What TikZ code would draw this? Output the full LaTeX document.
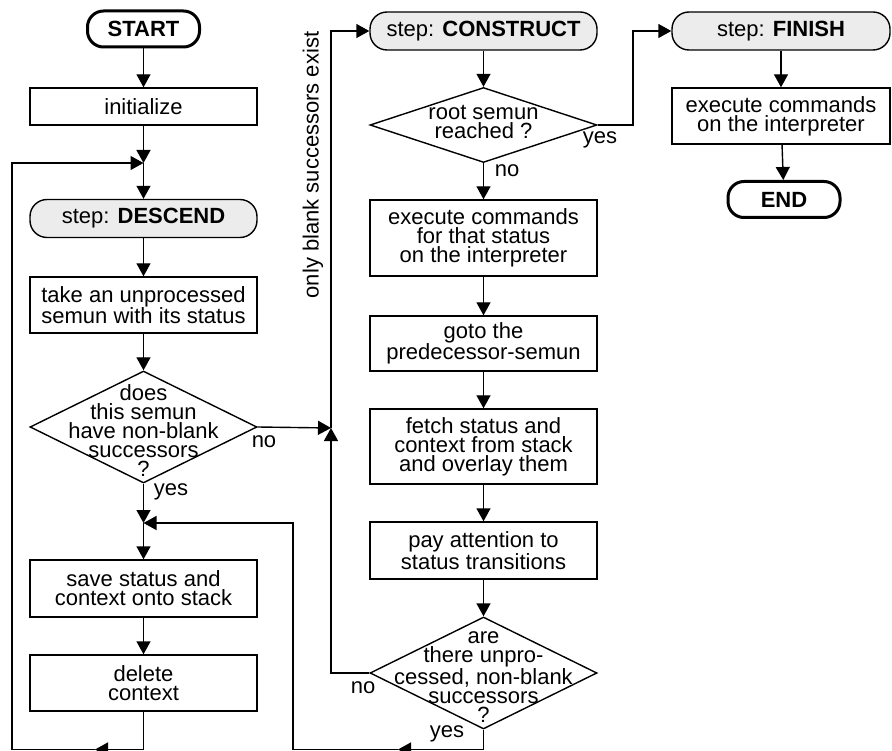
\documentclass[tikz,border=0pt]{standalone}
\usepackage{fontspec}
\setmainfont{Liberation Sans}
\usetikzlibrary{arrows.meta,shapes.geometric}
\tikzset{
  base/.style={font={\fontsize{22}{19}\selectfont}, align=center, inner sep=0pt, line width=1.4pt},
  proc/.style={base, draw, rectangle, minimum width=227pt},
  stepbox/.style={base, draw, rounded corners=17pt, fill=gray!15, minimum height=38pt},
  term/.style={base, draw, line width=3pt, rounded corners=16pt, minimum width=112pt, minimum height=36pt, font={\fontsize{22}{19}\selectfont\bfseries}},
  decision/.style={draw, diamond, line width=1.4pt, inner sep=0pt, minimum width=227pt},
  dtext/.style={base},
  lbl/.style={base},
  flow/.style={line width=1.4pt, -{Triangle[length=13pt,width=14pt]}},
  plain/.style={line width=1.4pt}
}
\begin{document}
\begin{tikzpicture}[x=1pt,y=-1pt]
\clip (0,0) rectangle (892,751);
\useasboundingbox (0,0) rectangle (892,751);
% column 1
\node[term] (start) at (143.5,29) {START};
\node[proc, minimum height=37pt] (init) at (143.5,106.5) {initialize};
\coordinate (j1) at (143.5,163);
\node[stepbox, minimum width=227pt] (descend) at (143.5,218.5) {step: \textbf{DESCEND}};
\node[proc, minimum height=56pt] (take) at (143.5,305) {take an unprocessed\\semun with its status};
\node[decision, minimum height=112pt] (d1) at (143.5,427) {};
\node[dtext] (d1t) at (143.5,431) {does\\this semun\\have non-blank\\successors\\?};
\coordinate (j3) at (143.5,523);
\node[proc, minimum height=57pt] (save) at (143.5,588.5) {save status and\\context onto stack};
\node[proc, minimum height=56pt] (delete) at (143.5,683) {delete\\context};
\coordinate (b1) at (95,749.5);
\coordinate (l1) at (12,749.5);
% column 2
\coordinate (j2) at (331,428);
\node[stepbox, minimum width=227pt] (construct) at (483.5,31) {step: \textbf{CONSTRUCT}};
\node[decision, minimum height=75pt] (d2) at (483.5,125) {};
\node[dtext] (d2t) at (483.5,122) {root semun\\reached ?};
\node[proc, minimum height=76pt] (exec) at (483.5,238) {execute commands\\for that status\\on the interpreter};
\node[proc, minimum height=55pt] (goto) at (483.5,343.5) {goto the\\predecessor-semun};
\node[proc, minimum height=75pt] (fetch) at (483.5,446.5) {fetch status and\\context from stack\\and overlay them};
\node[proc, minimum height=57pt] (pay) at (483.5,550.5) {pay attention to\\status transitions};
\node[decision, minimum height=112pt] (d3) at (483.5,673) {};
\node[dtext] (d3t) at (483.5,677) {are\\there unpro-\\cessed, non-blank\\successors\\?};
\coordinate (b2) at (398,749.5);
% column 3
\node[stepbox, minimum width=218pt] (finish) at (781,31) {step: \textbf{FINISH}};
\node[proc, minimum width=218pt, minimum height=56pt] (exec2) at (781,116) {execute commands\\on the interpreter};
\node[term] (end) at (784,199.5) {END};
% labels
\node[lbl] (no1) at (264,442) {no};
\node[lbl] (yes1) at (171,492) {yes};
\node[lbl] (yes2) at (600,140) {yes};
\node[lbl] (no2) at (507,171) {no};
\node[lbl] (no3) at (363,688) {no};
\node[lbl] (yes3) at (447,734) {yes};
\node[lbl, rotate=90] (only) at (313,165) {only blank successors exist};
% connectors column 1
\draw[flow] (start) -- (init);
\draw[flow] (init) -- (j1);
\draw[flow] (j1) -- (descend);
\draw[flow] (descend) -- (take);
\draw[flow] (take) -- (d1.north);
\draw[flow] (d1.south) -- (j3);
\draw[flow] (j3) -- (save);
\draw[flow] (save) -- (delete);
\draw[flow] (delete) |- (b1);
\draw[plain] (b1) -- (l1);
\draw[flow] (l1) |- (j1);
\draw[flow] (d1.east) -- (j2);
% connectors column 2
\draw[flow] (construct) -- (d2.north);
\draw[flow] (d2.south) -- (exec);
\draw[flow] (exec) -- (goto);
\draw[flow] (goto) -- (fetch);
\draw[flow] (fetch) -- (pay);
\draw[flow] (pay) -- (d3.north);
\draw[flow] (d3.west) -| (j2);
\draw[flow] (j2) |- (construct.west);
\draw[flow] (d3.south) |- (b2);
\draw[flow] (b2) -| (293,523) -- (j3);
\draw[flow] (d2.east) -| (633,31) -- (finish.west);
% column 3
\draw[flow] (finish) -- (exec2);
\draw[flow] (exec2) -- (end);
\end{tikzpicture}
\end{document}
